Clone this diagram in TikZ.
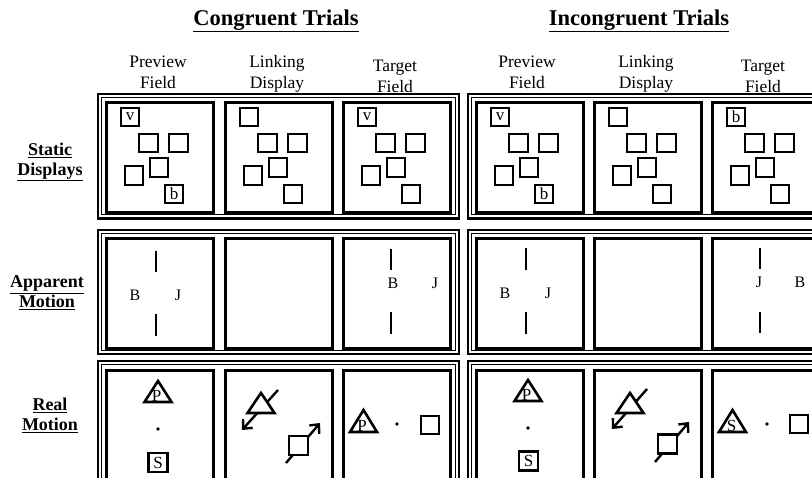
\documentclass[tikz,border=0pt]{standalone}
\usepackage{fontspec}
\setmainfont{Liberation Serif}
\usetikzlibrary{arrows.meta}
\begin{document}
\begin{tikzpicture}[x=1pt,y=-1pt,
  panel/.style={draw,line width=2.6pt,minimum width=107pt,minimum height=110pt,inner sep=0pt,anchor=north west},
  sq/.style={draw,fill=white,line width=2.3pt,minimum size=18.5pt,inner sep=0pt,font=\fontsize{17}{17}\selectfont},
  frameout/.style={line width=2.2pt},
  framein/.style={line width=1.1pt},
  lbl/.style={font=\fontsize{16}{16}\selectfont,inner sep=0pt},
  bar/.style={line width=2.7pt},
  tri/.style={draw,fill=white,line width=2.6pt,line join=miter},
  hdr/.style={font=\fontsize{17.5}{21}\selectfont,align=center,inner sep=0pt},
  rowlbl/.style={font=\bfseries\fontsize{18}{20}\selectfont,align=center,inner sep=0pt},
  ttl/.style={font=\bfseries\fontsize{22.5}{22}\selectfont,inner sep=0pt},
  mv/.style={line width=2.4pt,-{Straight Barb[length=7pt,width=13pt,line width=2.4pt]}},
  dotc/.style={fill,circle,inner sep=0pt,minimum size=3.6pt},
  tl/.style={font=\fontsize{17}{17}\selectfont,inner sep=0pt,anchor=base},
]
\clip (0,0) rectangle (812,478);
\fill[white] (0,0) rectangle (812,478);

% titles
\node[ttl] (tc) at (276,21) {\underline{Congruent Trials}};
\node[ttl] (ti) at (639,21) {\underline{Incongruent Trials}};

% column headers
\node[hdr] (h1) at (158,72) {Preview\\Field};
\node[hdr] (h2) at (277,74) {Linking\\Display};
\node[hdr] (h3) at (395,76) {Target\\Field};
\node[hdr] (h4) at (527,72) {Preview\\Field};
\node[hdr] (h5) at (646,74) {Linking\\Display};
\node[hdr] (h6) at (763,76) {Target\\Field};

% row labels
\node[rowlbl] (r1) at (50,162) {\underline{Static}\\\underline{Displays}};
\node[rowlbl] (r2) at (47,293) {\underline{Apparent}\\\underline{Motion}};
\node[rowlbl] (r3) at (50,415) {\underline{Real}\\\underline{Motion}};

% frames
\foreach \ya/\yb in {94/218.5, 230/354, 361/500}{
  \draw[frameout] (98,\ya) rectangle (459,\yb);
  \draw[framein] (101.8,\ya+3.8) rectangle (455.2,\yb-3.8);
  \draw[frameout] (468,\ya) rectangle (830,\yb);
  \draw[framein] (471.8,\ya+3.8) rectangle (826.2,\yb-3.8);
}

% panels
\node[panel] (s1) at (105,101) {};
\node[panel] (s2) at (224,101) {};
\node[panel] (s3) at (342,101) {};
\node[panel] (s4) at (475,101) {};
\node[panel] (s5) at (593,101) {};
\node[panel] (s6) at (711,101) {};
\node[panel] (a1) at (105,237) {};
\node[panel] (a2) at (224,237) {};
\node[panel] (a3) at (342,237) {};
\node[panel] (a4) at (475,237) {};
\node[panel] (a5) at (593,237) {};
\node[panel] (a6) at (711,237) {};
\node[panel] (m1) at (105,369) {};
\node[panel] (m2) at (224,369) {};
\node[panel] (m3) at (342,369) {};
\node[panel] (m4) at (475,369) {};
\node[panel] (m5) at (593,369) {};
\node[panel] (m6) at (711,369) {};

% static displays
\newcommand\staticset[5]{%
 \begin{scope}[shift={(#2,#3)}]
 \node[sq] (#1a) at (25,16) {#4};
 \node[sq] (#1b) at (43.5,42) {};
 \node[sq] (#1c) at (73.5,42) {};
 \node[sq] (#1d) at (54,66.5) {};
 \node[sq] (#1e) at (29,74.5) {};
 \node[sq] (#1f) at (69,93) {#5};
 \end{scope}}
\staticset{ka}{105}{101}{v}{b}
\staticset{kb}{224}{101}{}{}
\staticset{kc}{342}{101}{v}{}
\staticset{kd}{475}{101}{v}{b}
\staticset{ke}{593}{101}{}{}
\staticset{kf}{711}{101}{b}{}

% apparent motion
\draw[bar] (156,251) -- (156,272);
\draw[bar] (156,314) -- (156,336);
\node[lbl] (ab1) at (135,295) {B};
\node[lbl] (aj1) at (178,295) {J};
\draw[bar] (391,249) -- (391,270);
\draw[bar] (391,312) -- (391,334);
\node[lbl] (ab3) at (393,283) {B};
\node[lbl] (aj3) at (435,283) {J};
\draw[bar] (526,248) -- (526,270);
\draw[bar] (526,312) -- (526,334);
\node[lbl] (ab4) at (505,293) {B};
\node[lbl] (aj4) at (548,293) {J};
\draw[bar] (760,248) -- (760,269);
\draw[bar] (760,312) -- (760,333);
\node[lbl] (aj6) at (759,282) {J};
\node[lbl] (ab6) at (800,282) {B};

% real motion: preview fields
\draw[tri] (158,381) -- (171.5,402) -- (144.5,402) -- cycle;
\node[tl] (p1) at (156.5,401.5) {P};
\node[dotc] (d1) at (158,429) {};
\node[sq,minimum size=19pt] (q1) at (158,462.5) {S};

\draw[tri] (528,380) -- (541.5,401) -- (514.5,401) -- cycle;
\node[tl] (p4) at (526.5,400.5) {P};
\node[dotc] (d4) at (528,428) {};
\node[sq,minimum size=19pt] (q4) at (528.5,461) {S};

% real motion: linking displays
\coordinate (l2s) at (278,390);
\coordinate (l2t) at (242,430);
\coordinate (l2u) at (286,463);
\coordinate (l2v) at (320,423);
\draw[mv] (l2s) -- (l2t);
\draw[mv] (l2u) -- (l2v);
\draw[tri] (261,393) -- (274.5,413) -- (247.5,413) -- cycle;
\node[sq,minimum size=19pt] (q2) at (298.5,445.5) {};

\coordinate (l5s) at (647,389);
\coordinate (l5t) at (612,429);
\coordinate (l5u) at (655,462);
\coordinate (l5v) at (689,422);
\draw[mv] (l5s) -- (l5t);
\draw[mv] (l5u) -- (l5v);
\draw[tri] (630,393) -- (643.5,413) -- (616.5,413) -- cycle;
\node[sq,minimum size=19pt] (q5) at (667.5,444) {};

% real motion: target fields
\draw[tri] (363.5,410) -- (377,432) -- (350,432) -- cycle;
\node[tl] (p3) at (362,431.5) {P};
\node[dotc] (d3) at (397,424) {};
\node[sq] (q3) at (430,425) {};

\draw[tri] (732.5,410) -- (746,432) -- (719,432) -- cycle;
\node[tl] (p6) at (731.5,431.5) {S};
\node[dotc] (d6) at (767,424) {};
\node[sq] (q6) at (799,424) {};
\end{tikzpicture}
\end{document}
